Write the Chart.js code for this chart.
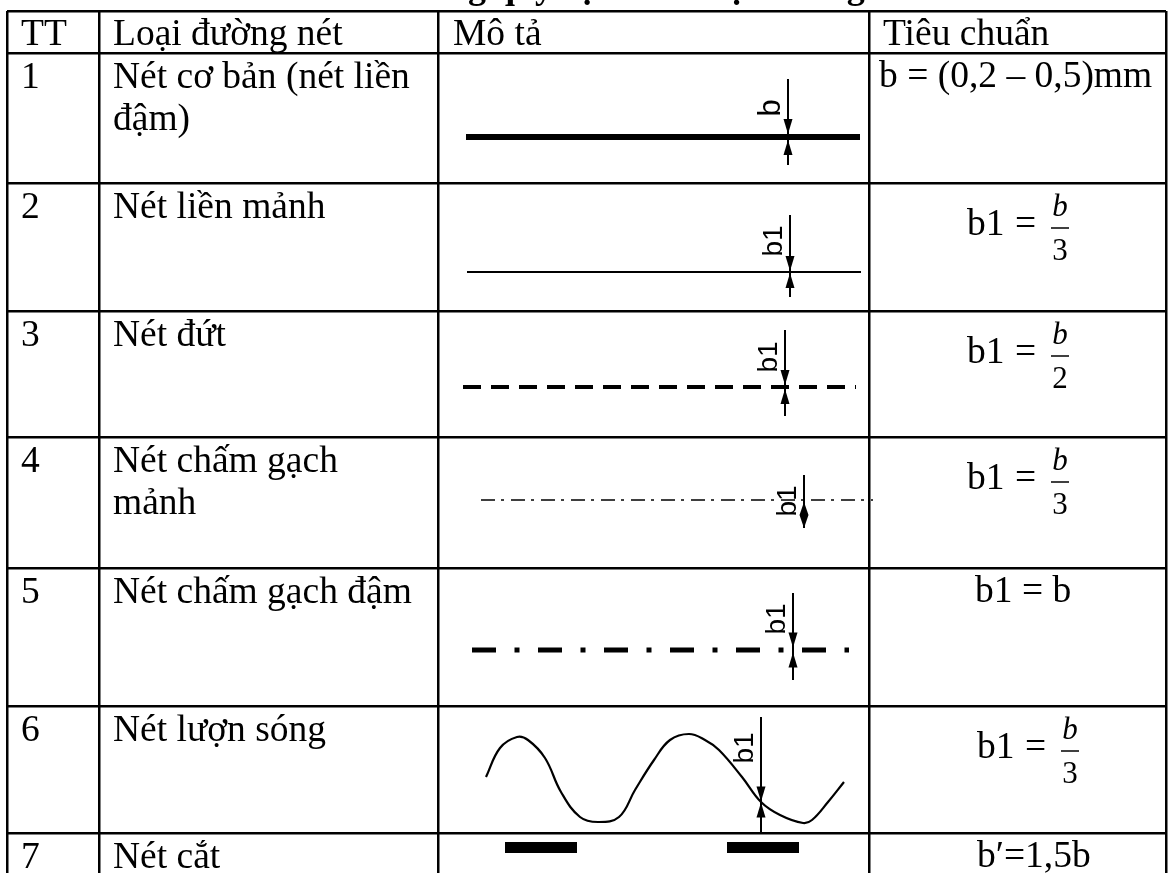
<!DOCTYPE html>
<html lang="vi">
<head>
<meta charset="utf-8">
<title>Các loại đường nét</title>
<script src="https://cdn.jsdelivr.net/npm/chart.js@4.4.1/dist/chart.umd.min.js"></script>
<style>
  html, body { margin: 0; padding: 0; background: #fff; overflow: hidden; }
  #chart { display: block; position: absolute; left: 0; top: 0; }
</style>
</head>
<body>
<canvas id="chart" width="1169" height="873"></canvas>
<script>
// table content
const title = 'Bảng quy định các loại đường nét'
const headers = ['TT', 'Loại đường nét', 'Mô tả', 'Tiêu chuẩn']
const rowNumbers = ['1', '2', '3', '4', '5', '6', '7']
const lineTypes = [
  ['Nét cơ bản (nét liền', 'đậm)'],
  ['Nét liền mảnh'],
  ['Nét đứt'],
  ['Nét chấm gạch', 'mảnh'],
  ['Nét chấm gạch đậm'],
  ['Nét lượn sóng'],
  ['Nét cắt']
]
const standards = ['b = (0,2 – 0,5)mm', 'b1 = b/3', 'b1 = b/2', 'b1 = b/3', 'b1 = b', 'b1 = b/3', 'b′=1,5b']

// table grid (picture units)
const columnEdges = [7, 99, 438, 869, 1166]
const rowEdges = [11, 53, 183, 311, 437, 568, 706, 833]

// sample strokes drawn in "Mô tả", rows 1-5
const strokeFrom = [466, 467, 463, 481, 472]
const strokeTo = [860, 861, 856, 873, 849]
const strokeAt = [137, 272, 387, 500, 650]

// wavy line, row 6
const waveX = [486, 500, 517, 528, 545, 561, 580, 598, 619, 635, 654, 670, 689, 705, 719, 742, 761, 780, 803, 812, 828, 844]
const waveY = [777, 748, 737, 740, 758, 792, 817, 822, 817, 790, 760, 740, 734, 740, 750, 777, 802, 815, 823, 820, 802, 782]

// section marks, row 7
const cutFrom = [505, 727]
const cutTo = [577, 799]
const cutAt = [847.5, 847.5]

// thickness dimensions
const dimLabels = ['b', 'b1', 'b1', 'b1', 'b1', 'b1']
const dimX = [788, 790, 785, 804, 793, 761]
const dimFrom = [79, 215, 330, 475, 593, 717]
const dimTo = [165, 297, 416, 528, 680, 833]
const dimAt = [137, 272, 387, 500, 650, 802]
const dimLabelAt = [108, 241, 357, 501, 619, 748]

// styles
const strokeWidths = [6, 2, 4, 1.5, 5]
const strokeDashes = [[], [], [18, 10], [14, 6, 3, 7], [24, 18.5, 5, 18.5]]
const SERIF = '"Liberation Serif", "Times New Roman", serif'
const SANS = '"Liberation Sans", Arial, sans-serif'

const datasets = []
strokeFrom.forEach((x0, i) => {
  datasets.push({
    data: [{ x: x0, y: strokeAt[i] }, { x: strokeTo[i], y: strokeAt[i] }],
    borderColor: '#000',
    borderWidth: strokeWidths[i],
    borderDash: strokeDashes[i],
    borderCapStyle: 'butt'
  })
})
datasets.push({
  data: waveX.map((x, i) => ({ x, y: waveY[i] })),
  borderColor: '#000',
  borderWidth: 2.2,
  tension: 0.4
})
cutFrom.forEach((x0, i) => {
  datasets.push({
    data: [{ x: x0, y: cutAt[i] }, { x: cutTo[i], y: cutAt[i] }],
    borderColor: '#000',
    borderWidth: 11,
    borderCapStyle: 'butt'
  })
})
dimX.forEach((x, i) => {
  datasets.push({
    data: [{ x, y: dimFrom[i] }, { x, y: dimTo[i] }],
    borderColor: '#000',
    borderWidth: 2,
    borderCapStyle: 'butt'
  })
})

function head (ctx, x, tip, dir) {
  // dir 1: pointing down, -1: pointing up
  ctx.beginPath()
  ctx.moveTo(x, tip)
  ctx.lineTo(x - 4.5, tip - dir * 15)
  ctx.lineTo(x + 4.5, tip - dir * 15)
  ctx.closePath()
  ctx.fill()
}

const tablePlugin = {
  id: 'tableText',
  afterDatasetsDraw (chart) {
    const ctx = chart.ctx
    const px = v => chart.scales.x.getPixelForValue(v)
    const py = v => chart.scales.y.getPixelForValue(v)
    ctx.save()
    ctx.fillStyle = '#000'
    ctx.strokeStyle = '#000'

    // title, cut off above the picture: only the descenders show
    ctx.font = 'bold 36px ' + SERIF
    ctx.textBaseline = 'alphabetic'
    ctx.textAlign = 'left'
    ctx.fillText(title, 406, py(rowEdges[0]) - 13)

    // arrow heads
    const halfW = strokeWidths.concat([1.1])
    dimX.forEach((v, i) => {
      const x = px(v)
      if (i === 3) {
        const c = py(515)
        ctx.beginPath()
        ctx.moveTo(x, c - 13)
        ctx.lineTo(x + 4.5, c)
        ctx.lineTo(x, c + 13)
        ctx.lineTo(x - 4.5, c)
        ctx.closePath()
        ctx.fill()
        return
      }
      const h = halfW[i] / 2
      head(ctx, x, py(dimAt[i] - h), 1)
      head(ctx, x, py(dimAt[i] + h), -1)
    })

    // dimension labels
    ctx.textAlign = 'center'
    dimLabels.forEach((t, i) => {
      ctx.font = (i === 0 ? '31px ' : '28px ') + SANS
      ctx.save()
      ctx.translate(px(dimX[i]) - 8, py(dimLabelAt[i]))
      ctx.rotate(-Math.PI / 2)
      ctx.fillText(t, 0, 0)
      ctx.restore()
    })

    // header and first two columns
    ctx.textAlign = 'left'
    ctx.font = '37.5px ' + SERIF
    const textX = [21, 113, 453, 883]
    headers.forEach((t, c) => ctx.fillText(t, px(textX[c]), py(rowEdges[0] + 34)))
    rowNumbers.forEach((t, r) => {
      const top = rowEdges[r + 1]
      ctx.fillText(t, px(textX[0]), py(top + 35))
      lineTypes[r].forEach((line, k) => ctx.fillText(line, px(textX[1]), py(top + 35 + 42 * k)))
    })

    // standards column
    const stdX = [879, 967, 967, 967, 975, 977, 977]
    standards.forEach((t, r) => {
      const top = rowEdges[r + 1]
      const x = px(stdX[r])
      ctx.textAlign = 'left'
      ctx.font = '37.5px ' + SERIF
      if (!t.includes('/')) {
        ctx.fillText(t, x, py(top + 34))
        return
      }
      const [lhs, frac] = t.split(' = ')
      const [num, den] = frac.split('/')
      ctx.fillText(lhs, x, py(top + 52))
      ctx.fillText('=', x + 48, py(top + 52))
      const cx = x + 93
      ctx.lineWidth = 1.5
      ctx.beginPath()
      ctx.moveTo(cx - 9, py(top + 45))
      ctx.lineTo(cx + 9, py(top + 45))
      ctx.stroke()
      ctx.textAlign = 'center'
      ctx.font = 'italic 31px ' + SERIF
      ctx.fillText(num, cx, py(top + 33))
      ctx.font = '31px ' + SERIF
      ctx.fillText(den, cx, py(top + 77))
    })
    ctx.restore()
  }
}

const gridOptions = { color: '#000', lineWidth: 2.5, drawTicks: false }

new Chart(document.getElementById('chart'), {
  type: 'line',
  data: { datasets },
  options: {
    responsive: false,
    devicePixelRatio: 1,
    animation: false,
    events: [],
    layout: { padding: { top: 11, left: 7, right: 3, bottom: 0 } },
    elements: { point: { radius: 0 } },
    plugins: { legend: { display: false }, tooltip: { enabled: false } },
    scales: {
      x: {
        type: 'linear',
        min: columnEdges[0],
        max: columnEdges[columnEdges.length - 1],
        grid: gridOptions,
        border: { display: false },
        ticks: { display: false },
        afterBuildTicks: s => { s.ticks = columnEdges.map(value => ({ value })) },
        afterFit: s => { s.height = 0 }
      },
      y: {
        type: 'linear',
        reverse: true,
        min: rowEdges[0],
        max: 873,
        grid: gridOptions,
        border: { display: false },
        ticks: { display: false },
        afterBuildTicks: s => { s.ticks = rowEdges.map(value => ({ value })) },
        afterFit: s => { s.width = 0 }
      }
    }
  },
  plugins: [tablePlugin]
})
</script>
</body>
</html>
